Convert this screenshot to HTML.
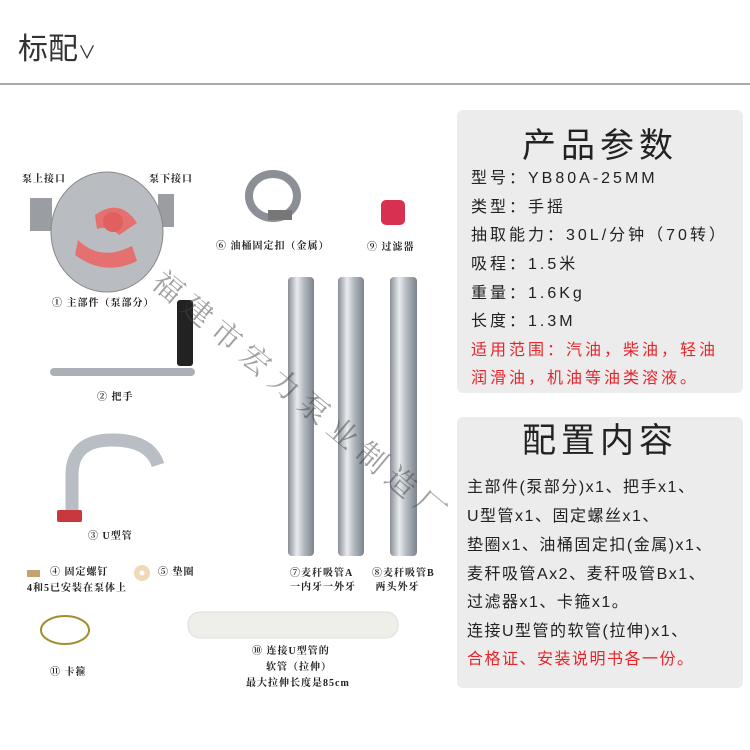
<!DOCTYPE html>
<html><head><meta charset="utf-8"><style>
body{margin:0;width:750px;height:750px;background:#fff;position:relative;overflow:hidden;font-family:"Liberation Sans","Noto Sans CJK SC",sans-serif}
.a{position:absolute;white-space:nowrap}
.p{position:absolute;background:#ececec;border-radius:6px}
.l{position:absolute;left:14px;font-size:16px;line-height:20px;letter-spacing:3px;color:#222;white-space:nowrap}
.r{color:#e8242a}
.s{font-family:"Liberation Serif","Noto Serif CJK SC",serif;font-size:10px;line-height:14px;color:#222;font-weight:bold;letter-spacing:1px}
</style></head><body>
<div class="a" style="left:18px;top:24px;font-size:30px;color:#333">标配<span style="font-size:18px">∨</span></div>
<div class="a" style="left:0;top:83px;width:750px;height:2px;background:#aaa"></div>

<div class="p" style="left:457px;top:110px;width:286px;height:283px">
<div class="a" style="left:0;width:286px;text-align:center;top:16px;font-size:34px;line-height:40px;letter-spacing:5px;color:#222">产品参数</div>
<div class="l" style="top:59px">型号：YB80A-25MM</div>
<div class="l" style="top:88px">类型：手摇</div>
<div class="l" style="top:116px">抽取能力：30L/分钟（70转）</div>
<div class="l" style="top:145px">吸程：1.5米</div>
<div class="l" style="top:174px">重量：1.6Kg</div>
<div class="l" style="top:202px">长度：1.3M</div>
<div class="l r" style="top:231px">适用范围：汽油，柴油，轻油</div>
<div class="l r" style="top:259px">润滑油，机油等油类溶液。</div>
</div>

<div class="p" style="left:457px;top:417px;width:286px;height:271px">
<div class="a" style="left:0;width:286px;text-align:center;top:4px;font-size:34px;line-height:40px;letter-spacing:5px;color:#222">配置内容</div>
<div class="l" style="left:10px;top:61px;letter-spacing:1.5px">主部件(泵部分)x1、把手x1、</div>
<div class="l" style="left:10px;top:90px;letter-spacing:1.5px">U型管x1、固定螺丝x1、</div>
<div class="l" style="left:10px;top:119px;letter-spacing:1.5px">垫圈x1、油桶固定扣(金属)x1、</div>
<div class="l" style="left:10px;top:148px;letter-spacing:1.5px">麦秆吸管Ax2、麦秆吸管Bx1、</div>
<div class="l" style="left:10px;top:176px;letter-spacing:1.5px">过滤器x1、卡箍x1。</div>
<div class="l" style="left:10px;top:205px;letter-spacing:1.5px">连接U型管的软管(拉伸)x1、</div>
<div class="l r" style="left:10px;top:233px;letter-spacing:1.5px">合格证、安装说明书各一份。</div>
</div>

<svg class="a" style="left:0;top:0" width="450" height="750">
<defs><linearGradient id="t" x1="0" x2="1"><stop offset="0" stop-color="#8a8f96"/><stop offset=".35" stop-color="#e8ecf0"/><stop offset=".6" stop-color="#b5bbc2"/><stop offset="1" stop-color="#7d838a"/></linearGradient></defs>
<rect x="30" y="198" width="22" height="33" fill="#9a9da1"/>
<rect x="158" y="194" width="16" height="33" fill="#9a9da1"/>
<ellipse cx="107" cy="232" rx="56" ry="60" fill="#b9bcc0" stroke="#888"/>
<path d="M95 215 q25 -18 42 8 l-18 12 q-10 -10 -22 -6z M78 240 q22 22 54 6 l5 15 q-32 16 -62 -6z" fill="#e57070"/>
<circle cx="113" cy="222" r="10" fill="#e06060"/>
<ellipse cx="273" cy="196" rx="24" ry="22" fill="none" stroke="#8c9096" stroke-width="8"/>
<rect x="268" y="210" width="24" height="10" fill="#777"/>
<rect x="381" y="200" width="24" height="25" rx="5" fill="#d83050"/>
<rect x="50" y="368" width="145" height="8" rx="4" fill="#aab0b6"/>
<rect x="177" y="300" width="16" height="66" rx="3" fill="#222"/>
<path d="M72 512 L72 475 Q72 440 112 440 Q150 440 158 465" fill="none" stroke="#b8bec4" stroke-width="13"/>
<rect x="57" y="510" width="25" height="12" rx="2" fill="#c8383c"/>
<rect x="27" y="570" width="13" height="7" fill="#c9a070"/>
<circle cx="142" cy="573" r="8" fill="#f0d8b8"/><circle cx="142" cy="573" r="2.5" fill="#fff"/>
<ellipse cx="65" cy="630" rx="24" ry="14" fill="none" stroke="#a09030" stroke-width="2"/>
<rect x="288" y="277" width="26" height="279" rx="4" fill="url(#t)"/>
<rect x="338" y="277" width="26" height="279" rx="4" fill="url(#t)"/>
<rect x="390" y="277" width="27" height="279" rx="4" fill="url(#t)"/>
<rect x="188" y="612" width="210" height="26" rx="12" fill="#efefea" stroke="#ddd"/>
<text x="150" y="285" font-family="Noto Serif CJK SC,serif" font-size="30" fill="#444" opacity=".5" transform="rotate(40 150 285)" letter-spacing="8">福建市宏力泵业制造厂</text>
</svg>
<div class="a s" style="left:22px;top:173px">泵上接口</div>
<div class="a s" style="left:149px;top:173px">泵下接口</div>
<div class="a s" style="left:52px;top:297px">① 主部件（泵部分）</div>
<div class="a s" style="left:216px;top:240px">⑥ 油桶固定扣（金属）</div>
<div class="a s" style="left:367px;top:241px">⑨ 过滤器</div>
<div class="a s" style="left:97px;top:391px">② 把手</div>
<div class="a s" style="left:88px;top:530px">③ U型管</div>
<div class="a s" style="left:50px;top:566px">④ 固定螺钉</div>
<div class="a s" style="left:158px;top:566px">⑤ 垫圈</div>
<div class="a s" style="left:27px;top:582px">4和5已安装在泵体上</div>
<div class="a s" style="left:290px;top:567px">⑦麦秆吸管A<br>一内牙一外牙</div>
<div class="a s" style="left:372px;top:567px">⑧麦秆吸管B<br>&nbsp;两头外牙</div>
<div class="a s" style="left:50px;top:666px">⑪ 卡箍</div>
<div class="a s" style="left:252px;top:644px;line-height:16px">⑩ 连接U型管的<br>&nbsp;&nbsp;&nbsp;&nbsp;软管（拉伸）<br><span style="margin-left:-6px">最大拉伸长度是85cm</span></div>
</body></html>
